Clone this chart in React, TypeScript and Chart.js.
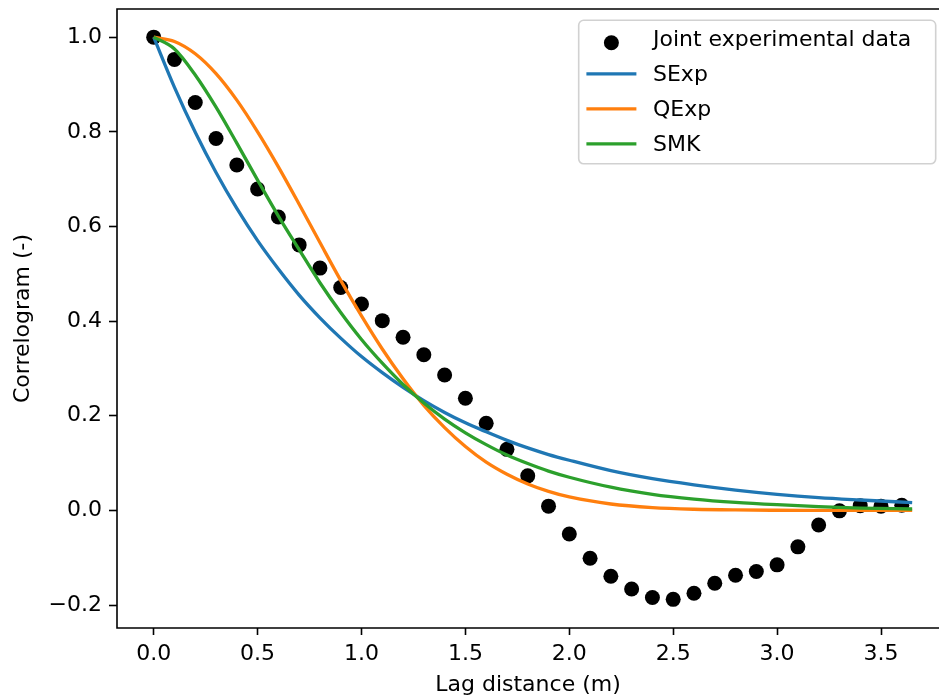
import React, { useEffect, useRef } from "react";
import { Chart, registerables } from "chart.js";

Chart.register(...registerables);

// Experimental correlogram: lag (m) and joint correlation values
const lagSteps = [
  0, 0.1, 0.2, 0.3, 0.4, 0.5, 0.6, 0.7, 0.8, 0.9, 1.0, 1.1, 1.2, 1.3, 1.4, 1.5, 1.6, 1.7, 1.8,
  1.9, 2.0, 2.1, 2.2, 2.3, 2.4, 2.5, 2.6, 2.7, 2.8, 2.9, 3.0, 3.1, 3.2, 3.3, 3.4, 3.5, 3.6,
];
const jointData = [
  1.0, 0.953, 0.862, 0.786, 0.73, 0.679, 0.62, 0.561, 0.512, 0.471, 0.436, 0.401, 0.366, 0.329,
  0.286, 0.237, 0.184, 0.129, 0.073, 0.009, -0.05, -0.101, -0.139, -0.166, -0.184, -0.188,
  -0.175, -0.154, -0.137, -0.129, -0.115, -0.077, -0.031, -0.001, 0.01, 0.009, 0.011,
];

// Fitted correlation models sampled along the lag axis
const modelLag = [
  0, 0.1, 0.2, 0.3, 0.4, 0.5, 0.6, 0.7, 0.8, 0.9, 1.0, 1.1, 1.2, 1.3, 1.4, 1.5, 1.6, 1.7, 1.8,
  1.9, 2.0, 2.2, 2.4, 2.6, 2.8, 3.0, 3.2, 3.4, 3.65,
];
const sexpValues = [
  1.0, 0.894, 0.799, 0.714, 0.638, 0.57, 0.51, 0.455, 0.407, 0.364, 0.325, 0.291, 0.26, 0.232,
  0.207, 0.185, 0.166, 0.148, 0.132, 0.118, 0.106, 0.084, 0.067, 0.054, 0.043, 0.034, 0.027,
  0.022, 0.0165,
];
const qexpValues = [
  1.0, 0.991, 0.965, 0.923, 0.867, 0.8, 0.726, 0.647, 0.566, 0.486, 0.411, 0.341, 0.278, 0.222,
  0.175, 0.135, 0.102, 0.0764, 0.0559, 0.0402, 0.0284, 0.0135, 0.0059, 0.0024, 0.0009, 0.0003,
  0.0001, 0.0, 0.0,
];
const smkValues = [
  1.0, 0.975, 0.92, 0.852, 0.776, 0.698, 0.622, 0.551, 0.481, 0.418, 0.361, 0.311, 0.266, 0.227,
  0.193, 0.164, 0.139, 0.117, 0.099, 0.083, 0.07, 0.049, 0.034, 0.024, 0.017, 0.012, 0.008,
  0.005, 0.003,
];

const xTicks = [0, 0.5, 1.0, 1.5, 2.0, 2.5, 3.0, 3.5];
const yTicks = [-0.2, 0.0, 0.2, 0.4, 0.6, 0.8, 1.0];

const FONT = "'DejaVu Sans', 'Liberation Sans', sans-serif";
const FONT_SIZE = 22;

const fmt = (v: number) => {
  const s = Math.abs(v) < 1e-9 ? "0.0" : v.toFixed(1);
  return s.replace("-", "\u2212");
};

// Axis spines: left, top and bottom (the right one falls past the canvas edge)
const framePlugin = {
  id: "frame",
  afterDatasetsDraw(chart: any) {
    const { ctx, chartArea } = chart;
    const { left, top, right, bottom } = chartArea;
    ctx.save();
    ctx.strokeStyle = "#000";
    ctx.lineWidth = 1.6;
    ctx.beginPath();
    ctx.moveTo(right + 2, top);
    ctx.lineTo(left, top);
    ctx.lineTo(left, bottom);
    ctx.lineTo(right + 2, bottom);
    ctx.stroke();
    ctx.restore();
  },
};

// Legend box in the upper-right corner of the axes
const legendPlugin = {
  id: "cornerLegend",
  afterDraw(chart: any) {
    const { ctx, chartArea } = chart;
    const boxRight = chartArea.right - 3.3;
    const boxTop = chartArea.top + 11.3;
    const boxLeft = boxRight - 357;
    const boxBottom = boxTop + 143.5;
    const rowGap = 35;
    ctx.save();
    ctx.beginPath();
    const r = 5;
    ctx.moveTo(boxLeft + r, boxTop);
    ctx.arcTo(boxRight, boxTop, boxRight, boxBottom, r);
    ctx.arcTo(boxRight, boxBottom, boxLeft, boxBottom, r);
    ctx.arcTo(boxLeft, boxBottom, boxLeft, boxTop, r);
    ctx.arcTo(boxLeft, boxTop, boxRight, boxTop, r);
    ctx.closePath();
    ctx.fillStyle = "rgba(255,255,255,0.8)";
    ctx.fill();
    ctx.strokeStyle = "rgba(204,204,204,0.9)";
    ctx.lineWidth = 1.6;
    ctx.stroke();

    const handleLeft = boxLeft + 7.7;
    const handleRight = handleLeft + 50;
    const textX = boxLeft + 74.3;
    ctx.font = `${FONT_SIZE}px ${FONT}`;
    ctx.textBaseline = "middle";
    ctx.textAlign = "left";
    chart.data.datasets.forEach((ds: any, i: number) => {
      const cy = boxTop + 18.5 + i * rowGap;
      if (ds.type === "scatter") {
        ctx.beginPath();
        ctx.arc((handleLeft + handleRight) / 2, cy + 4, ds.pointRadius, 0, Math.PI * 2);
        ctx.fillStyle = ds.backgroundColor;
        ctx.fill();
      } else {
        ctx.beginPath();
        ctx.moveTo(handleLeft, cy);
        ctx.lineTo(handleRight, cy);
        ctx.strokeStyle = ds.borderColor;
        ctx.lineWidth = ds.borderWidth;
        ctx.stroke();
      }
      ctx.fillStyle = "#000";
      ctx.fillText(ds.label, textX, cy + 1.5);
    });
    ctx.restore();
  },
};

const toPoints = (xs: number[], ys: number[]) => xs.map((x, i) => ({ x, y: ys[i] }));

const clearPaddings = (scale: any) => {
  scale.paddingTop = 0;
  scale.paddingBottom = 0;
  scale.paddingLeft = 0;
  scale.paddingRight = 0;
};

export default function App() {
  const canvasRef = useRef<HTMLCanvasElement | null>(null);

  useEffect(() => {
    if (!canvasRef.current) return;
    const lineCommon = {
      type: "line" as const,
      pointRadius: 0,
      pointHoverRadius: 0,
      borderWidth: 3.3,
      fill: false,
      cubicInterpolationMode: "monotone" as const,
    };
    const chart = new Chart(canvasRef.current, {
      type: "scatter",
      data: {
        datasets: [
          {
            type: "scatter",
            label: "Joint experimental data",
            data: toPoints(lagSteps, jointData),
            backgroundColor: "#000000",
            borderColor: "#000000",
            borderWidth: 0,
            pointRadius: 7.5,
            order: 4,
          },
          {
            ...lineCommon,
            label: "SExp",
            data: toPoints(modelLag, sexpValues),
            borderColor: "#1f77b4",
            backgroundColor: "#1f77b4",
            order: 3,
          },
          {
            ...lineCommon,
            label: "QExp",
            data: toPoints(modelLag, qexpValues),
            borderColor: "#ff7f0e",
            backgroundColor: "#ff7f0e",
            order: 2,
          },
          {
            ...lineCommon,
            label: "SMK",
            data: toPoints(modelLag, smkValues),
            borderColor: "#2ca02c",
            backgroundColor: "#2ca02c",
            order: 1,
          },
        ] as any,
      },
      options: {
        responsive: false,
        animation: false,
        devicePixelRatio: 1,
        layout: { autoPadding: false, padding: { top: 9, right: 0, left: 0, bottom: 0 } },
        plugins: {
          legend: { display: false },
          tooltip: { enabled: false },
        },
        scales: {
          x: {
            type: "linear",
            min: -0.1766,
            max: 3.7791,
            afterBuildTicks: (scale: any) => {
              scale.ticks = xTicks.map((v) => ({ value: v }));
            },
            afterFit: (scale: any) => {
              scale.height = 71;
              clearPaddings(scale);
            },
            grid: {
              display: true,
              drawOnChartArea: false,
              drawTicks: true,
              tickLength: 7,
              tickColor: "#000",
              tickWidth: 1.6,
            },
            border: { display: false },
            ticks: {
              autoSkip: false,
              maxRotation: 0,
              padding: 6,
              color: "#000",
              font: { family: FONT, size: FONT_SIZE },
              callback: (v: any) => fmt(Number(v)),
            },
            title: {
              display: true,
              text: "Lag distance (m)",
              color: "#000",
              font: { family: FONT, size: FONT_SIZE },
              padding: { top: 0, bottom: 1 },
            },
          },
          y: {
            type: "linear",
            min: -0.2485,
            max: 1.0595,
            afterBuildTicks: (scale: any) => {
              scale.ticks = yTicks.map((v) => ({ value: v }));
            },
            afterFit: (scale: any) => {
              scale.width = 117;
              clearPaddings(scale);
            },
            grid: {
              display: true,
              drawOnChartArea: false,
              drawTicks: true,
              tickLength: 8,
              tickColor: "#000",
              tickWidth: 1.6,
            },
            border: { display: false },
            ticks: {
              autoSkip: false,
              padding: 7,
              color: "#000",
              font: { family: FONT, size: FONT_SIZE },
              callback: (v: any) => fmt(Number(v)),
            },
            title: {
              display: true,
              text: "Correlogram (-)",
              color: "#000",
              font: { family: FONT, size: FONT_SIZE },
              padding: { top: 10, bottom: 0 },
            },
          },
        },
      } as any,
      plugins: [framePlugin, legendPlugin],
    });
    return () => chart.destroy();
  }, []);

  return (
    <div
      style={{
        position: "fixed",
        left: 0,
        top: 0,
        width: 939,
        height: 699,
        overflow: "hidden",
        background: "#ffffff",
      }}
    >
      <canvas ref={canvasRef} width={939} height={699} style={{ display: "block", width: 939, height: 699 }} />
    </div>
  );
}
